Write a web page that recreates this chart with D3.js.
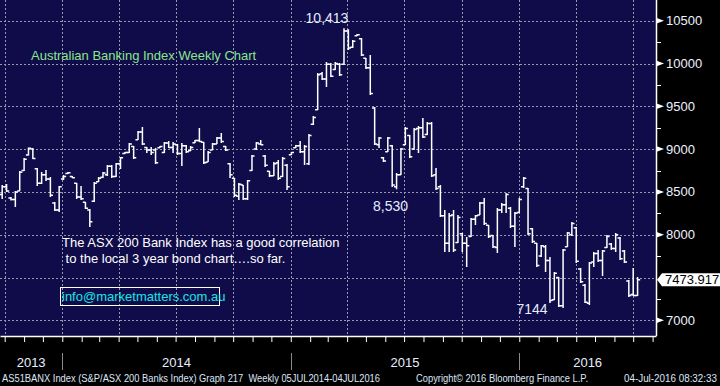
<!DOCTYPE html>
<html>
<head>
<meta charset="utf-8">
<script src="https://cdn.jsdelivr.net/npm/d3@7.9.0/dist/d3.min.js"></script>
<style>
  body { margin: 0; background: #000; }
  svg { display: block; font-family: 'Liberation Sans', Arial, sans-serif; }
</style>
</head>
<body>
<div id="chart"></div>
<script>
// weekly bars, Fridays, first one 27 Sep 2013
const firstWeek = '2013-09-27';

const opens = [
  8470, 8560, 8430, 8410, 8510, 8750, 8930, 9000, 8770, 8600,
  8700, 8650, 8370, 8290, 8650, 8715, 8680, 8600, 8440, 8380,
  8290, 8390, 8620, 8670, 8700, 8800, 8680, 8830, 8950, 8960,
  9030, 9110, 9200, 9020, 8990, 8990, 9015, 8960, 9070, 9020,
  9050, 8950, 9040, 8980, 9075, 9100, 9080, 8850, 8990, 9060,
  9130, 9030, 8830, 8660, 8450, 8580, 8420, 8750, 9000, 9060,
  8920, 8740, 8690, 8840, 8680, 8810, 8935, 9015, 9040, 8970,
  8830, 9290, 9460, 9880, 9820, 9990, 9930, 9990, 9990, 10380,
  10190, 10325, 10290, 10060, 9950, 9480, 9050, 8900, 8970, 9040,
  8560, 8700, 9050, 9160, 9000, 9240, 9250, 9170, 9300, 8700,
  8560, 8220, 7900, 8230, 7910, 8010, 7900, 7980, 8180, 8230,
  8370, 8110, 7990, 7850, 8290, 8350, 8310, 8100, 8260, 8560,
  8540, 8070, 7900, 7750, 7860, 7700, 7240, 7500, 7170, 7860,
  8000, 8080, 7600, 7410, 7200, 7680, 7780, 7700, 7850, 7890,
  7840, 7960, 7810, 7460, 7300, 7290
];
const highs = [
  8580, 8592, 8440, 8510, 8744, 8896, 9019, 9012, 8779, 8732,
  8755, 8674, 8382, 8569, 8697, 8732, 8685, 8604, 8569, 8382,
  8300, 8615, 8674, 8732, 8814, 8814, 8837, 8907, 8966, 9071,
  9036, 9211, 9258, 9024, 9024, 9012, 9036, 9083, 9094, 9083,
  9059, 9071, 9047, 9036, 9106, 9246, 9083, 8977, 9071, 9141,
  9188, 9036, 8837, 8662, 8604, 8580, 8639, 8931, 9083, 9106,
  8931, 8744, 8849, 8872, 8907, 8826, 8966, 9047, 9094, 9047,
  9176, 9386, 9888, 9900, 10017, 10005, 10017, 10005, 10413, 10400,
  10274, 10344, 10297, 10064, 10099, 9491, 9141, 8907, 9141, 9047,
  8720, 9012, 9258, 9164, 9246, 9269, 9363, 9316, 9316, 8779,
  8580, 8288, 8253, 8288, 8230, 8020, 7973, 8195, 8230, 8382,
  8428, 8113, 7996, 8312, 8370, 8487, 8323, 8265, 8428, 8674,
  8545, 8078, 7903, 7880, 7880, 7739, 7564, 7506, 7833, 8031,
  8148, 8090, 7611, 7424, 7681, 7798, 7821, 7821, 7996, 7903,
  8020, 7973, 7821, 7471, 7611, 7506
];
const lows = [
  8417, 8499, 8400, 8323, 8510, 8744, 8925, 8884, 8569, 8592,
  8627, 8440, 8277, 8265, 8639, 8710, 8662, 8417, 8405, 8300,
  8090, 8382, 8615, 8662, 8685, 8662, 8674, 8767, 8943, 8954,
  8884, 9106, 9047, 8954, 8931, 8826, 9012, 8954, 9012, 8954,
  8931, 8802, 8954, 8977, 9071, 9083, 8826, 8849, 8989, 9059,
  9071, 8977, 8662, 8440, 8405, 8405, 8405, 8744, 8989, 9047,
  8791, 8674, 8685, 8639, 8674, 8522, 8931, 9012, 8954, 8814,
  8814, 9281, 9456, 9807, 9725, 9842, 9923, 9853, 9982, 10157,
  10180, 10321, 10087, 9935, 9632, 9047, 9012, 8849, 8966, 8557,
  8530, 8697, 9047, 8896, 8989, 8954, 9129, 9164, 8674, 8522,
  8207, 7798, 7798, 7798, 7903, 7798, 7623, 7973, 8113, 8230,
  8113, 7961, 7844, 7786, 8253, 8253, 8078, 7856, 8253, 8545,
  7996, 7903, 7623, 7739, 7564, 7202, 7237, 7155, 7144, 7856,
  7985, 7669, 7436, 7202, 7179, 7623, 7681, 7517, 7844, 7821,
  7798, 7704, 7669, 7272, 7284, 7284
];
const closes = [
  8560, 8510, 8410, 8500, 8730, 8880, 9010, 8890, 8600, 8700,
  8650, 8460, 8290, 8560, 8680, 8725, 8665, 8440, 8420, 8310,
  8150, 8600, 8660, 8720, 8800, 8680, 8830, 8900, 8960, 9060,
  8900, 9200, 9060, 8990, 8960, 8840, 9030, 9070, 9020, 9060,
  8950, 9040, 8970, 9020, 9100, 9090, 8840, 8960, 9060, 9130,
  9090, 8990, 8700, 8460, 8590, 8420, 8630, 8920, 9070, 9050,
  8810, 8690, 8830, 8660, 8890, 8560, 8960, 9040, 8970, 9030,
  9160, 9370, 9870, 9820, 9990, 9850, 10000, 9870, 10380, 10180,
  10260, 10335, 10100, 9950, 9650, 9060, 9130, 8860, 9130, 8580,
  8700, 9000, 9240, 8910, 9230, 9250, 9140, 9300, 8690, 8540,
  8220, 7900, 8220, 7820, 8200, 7900, 7870, 8180, 8220, 8370,
  8130, 7980, 7860, 8290, 8350, 8470, 8100, 8250, 8410, 8660,
  8010, 7920, 7640, 7870, 7700, 7230, 7550, 7170, 7820, 8020,
  8130, 7690, 7450, 7210, 7670, 7780, 7700, 7810, 7980, 7840,
  8000, 7720, 7680, 7290, 7290, 7473.917
];

const yTicks = [7000, 7500, 8000, 8500, 9000, 9500, 10000, 10500];
const yMinorTicks = [7250, 7750, 8250, 8750, 9250, 9750, 10250];
const yearLabels = ['2013', '2014', '2015', '2016'];
const lastPrice = 7473.917;

const callouts = ['10,413', '8,530', '7144'];
const calloutWeek = [78, 90, 128];

const chartTitle = 'Australian Banking Index Weekly Chart';
const noteLines = [
  'The ASX 200 Bank Index has a good correlation',
  ' to the local 3 year bond chart\u2026.so far.',
];
const email = 'info@marketmatters.com.au';
const footer = [
  'AS51BANX Index (S&P/ASX 200 Banks Index) Graph 217  Weekly 05JUL2014-04JUL2016',
  'Copyright\u00a9 2016 Bloomberg Finance L.P.',
  '04-Jul-2016 08:32:33',
];

const width = 720;
const height = 386;
const plotRight = 656;
const plotBottom = 336;

const start = new Date(firstWeek + 'T00:00:00Z');
const dates = d3.utcFriday.range(start, d3.utcDay.offset(start, opens.length * 7 - 1));
const bars = dates.map((date, i) => ({
  date,
  open: opens[i],
  high: highs[i],
  low: lows[i],
  close: closes[i],
}));

const x = d3
  .scaleUtc()
  .domain([new Date(Date.UTC(2013, 8, 23, 12)), new Date(Date.UTC(2016, 7, 6, 10))])
  .range([0, plotRight]);

const y = d3.scaleLinear().domain([7000, 10500]).range([320.3, 20.7]);

const svg = d3
  .select('#chart')
  .append('svg')
  .attr('width', width)
  .attr('height', height);

svg.append('rect').attr('width', width).attr('height', height).attr('fill', '#000');
svg
  .append('rect')
  .attr('width', plotRight)
  .attr('height', plotBottom)
  .attr('fill', '#100c4a');

// dotted grid
const grid = svg
  .append('g')
  .attr('stroke', '#9a98b0')
  .attr('stroke-width', 1)
  .attr('stroke-dasharray', '2,2');

grid
  .selectAll('line.h')
  .data(yTicks)
  .join('line')
  .attr('class', 'h')
  .attr('x1', 0)
  .attr('x2', plotRight)
  .attr('y1', (d) => Math.round(y(d)) + 0.5)
  .attr('y2', (d) => Math.round(y(d)) + 0.5);

grid
  .selectAll('line.v')
  .data(d3.utcMonth.every(3).range(...x.domain()))
  .join('line')
  .attr('class', 'v')
  .attr('x1', (d) => Math.round(x(d)) + 0.5)
  .attr('x2', (d) => Math.round(x(d)) + 0.5)
  .attr('y1', 0)
  .attr('y2', plotBottom);

// OHLC bars
const tick = 2.6;
svg
  .append('g')
  .attr('stroke', '#fff')
  .attr('stroke-width', 1.5)
  .attr('fill', 'none')
  .selectAll('path')
  .data(bars)
  .join('path')
  .attr('d', (d) => {
    const cx = x(d.date);
    return (
      `M${cx},${y(d.high)}V${y(d.low)}` +
      `M${cx - tick},${y(d.open)}H${cx}` +
      `M${cx},${y(d.close)}H${cx + tick}`
    );
  });

// bottom axis, monthly ticks
const xAxis = svg
  .append('g')
  .attr('transform', `translate(0,${plotBottom})`)
  .call(
    d3
      .axisBottom(x)
      .ticks(d3.utcMonth.every(1))
      .tickSize(6)
      .tickSizeOuter(0)
      .tickFormat(''),
  );
xAxis.select('.domain').attr('stroke', '#fff').attr('stroke-width', 1.5);
xAxis.selectAll('.tick line').attr('stroke', '#fff');

// year bands
const years = yearLabels.map((label) => {
  const yr = +label;
  const a = Math.max(x(new Date(Date.UTC(yr, 0, 1))), 0);
  const b = Math.min(x(new Date(Date.UTC(yr + 1, 0, 1))), plotRight);
  return { label, a, b };
});

svg
  .append('g')
  .selectAll('line')
  .data(years.filter((d) => d.a > 0))
  .join('line')
  .attr('x1', (d) => Math.round(d.a) + 0.5)
  .attr('x2', (d) => Math.round(d.a) + 0.5)
  .attr('y1', 353)
  .attr('y2', 370)
  .attr('stroke', '#8a8a8a');

svg
  .append('g')
  .selectAll('text')
  .data(years)
  .join('text')
  .attr('x', (d) => (d.a + d.b) / 2)
  .attr('y', 367)
  .attr('text-anchor', 'middle')
  .attr('fill', '#e8eeff')
  .attr('font-size', 13)
  .text((d) => d.label);

// right axis
const ly = y(lastPrice);
const visibleTicks = yTicks.filter((d) => Math.abs(y(d) - ly) > 10);

const right = svg.append('g');
right
  .append('line')
  .attr('x1', plotRight + 0.5)
  .attr('x2', plotRight + 0.5)
  .attr('y1', 0)
  .attr('y2', plotBottom)
  .attr('stroke', '#fff')
  .attr('stroke-width', 1.5);

right
  .selectAll('line.minor')
  .data(yMinorTicks)
  .join('line')
  .attr('class', 'minor')
  .attr('x1', plotRight)
  .attr('x2', plotRight + 5)
  .attr('y1', (d) => Math.round(y(d)) + 0.5)
  .attr('y2', (d) => Math.round(y(d)) + 0.5)
  .attr('stroke', '#fff');

right
  .selectAll('path.major')
  .data(visibleTicks)
  .join('path')
  .attr('class', 'major')
  .attr('d', (d) => {
    const ty = y(d);
    return `M${plotRight},${ty - 3}L${plotRight + 8},${ty}L${plotRight},${ty + 3}Z`;
  })
  .attr('fill', '#fff');

right
  .selectAll('text')
  .data(visibleTicks)
  .join('text')
  .attr('x', plotRight + 10)
  .attr('y', (d) => y(d) + 4.5)
  .attr('fill', '#eef2ff')
  .attr('font-size', 13)
  .text((d) => d);

// last price flag
right
  .append('path')
  .attr(
    'd',
    `M${plotRight + 1},${ly}L${plotRight + 6},${ly - 6.5}H${width}V${ly + 6.5}H${plotRight + 6}Z`,
  )
  .attr('fill', '#fff');
right
  .append('text')
  .attr('x', plotRight + 9)
  .attr('y', ly + 4.5)
  .attr('fill', '#000')
  .attr('font-size', 13)
  .text(lastPrice.toFixed(3));

// callouts for peak and troughs
const calloutOffset = [
  [-17, -5],
  [-6, 22],
  [-31, 6],
];
svg
  .append('g')
  .selectAll('text')
  .data(callouts)
  .join('text')
  .attr('x', (d, i) => x(bars[calloutWeek[i]].date) + calloutOffset[i][0])
  .attr('y', (d, i) => {
    const b = bars[calloutWeek[i]];
    return i === 0 ? y(b.high) + calloutOffset[i][1] : y(b.low) + calloutOffset[i][1];
  })
  .attr('text-anchor', 'middle')
  .attr('fill', '#e4ecff')
  .attr('font-size', 14)
  .text((d) => d);

// titles and notes
svg
  .append('text')
  .attr('x', 31)
  .attr('y', 60)
  .attr('fill', '#8ae68a')
  .attr('font-size', 13)
  .text(chartTitle);

svg
  .append('g')
  .selectAll('text')
  .data(noteLines)
  .join('text')
  .attr('x', 62)
  .attr('y', (d, i) => 247 + i * 16)
  .attr('fill', '#fff')
  .attr('font-size', 13)
  .attr('xml:space', 'preserve')
  .text((d) => d);

svg
  .append('rect')
  .attr('x', 60.5)
  .attr('y', 287.5)
  .attr('width', 159)
  .attr('height', 18)
  .attr('fill', 'none')
  .attr('stroke', '#fff');
svg
  .append('text')
  .attr('x', 62)
  .attr('y', 301)
  .attr('fill', '#19e6e6')
  .attr('font-size', 13)
  .text(email);

// footer line
const footerX = [2, 416, 624];
const footerW = [378, 172, 93];
svg
  .append('g')
  .selectAll('text')
  .data(footer)
  .join('text')
  .attr('x', (d, i) => footerX[i])
  .attr('y', 382)
  .attr('fill', '#dfe6f7')
  .attr('font-size', 10)
  .attr('textLength', (d, i) => footerW[i])
  .attr('lengthAdjust', 'spacingAndGlyphs')
  .attr('xml:space', 'preserve')
  .text((d) => d);
</script>
</body>
</html>
